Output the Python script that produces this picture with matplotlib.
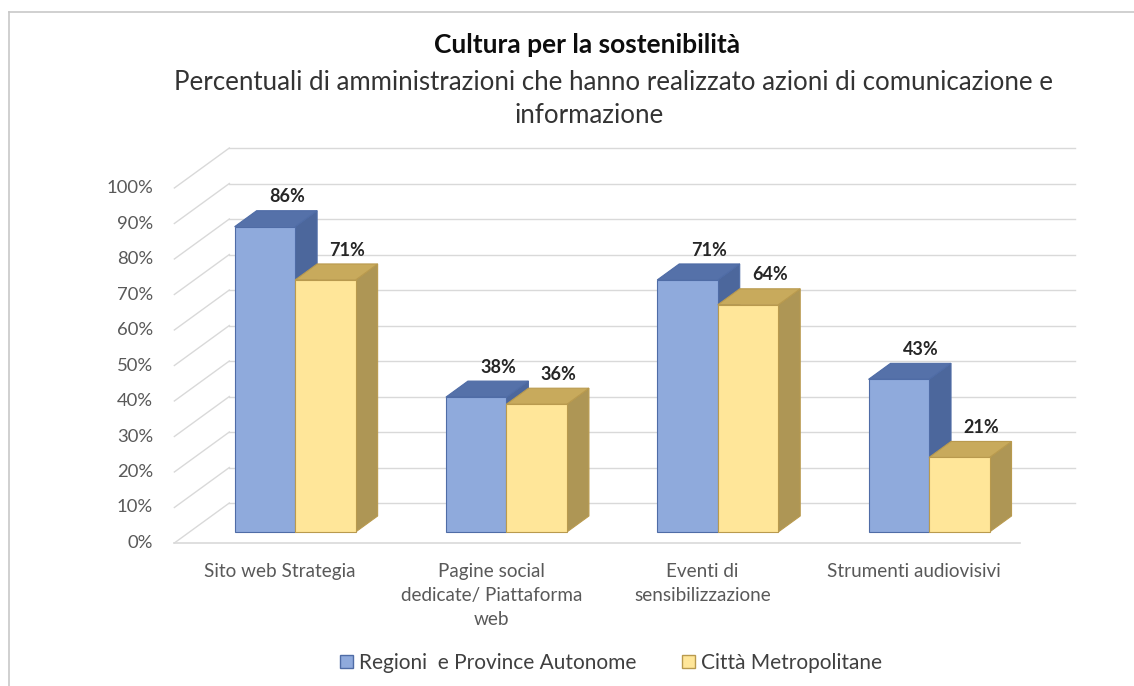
import matplotlib.pyplot as plt
from matplotlib.patches import Polygon, Patch
from matplotlib.lines import Line2D

plt.rcParams['font.family'] = ['Lato', 'DejaVu Sans']

# dati
categorie = ["Sito web Strategia",
             "Pagine social\ndedicate/ Piattaforma\nweb",
             "Eventi di\nsensibilizzazione",
             "Strumenti audiovisivi"]
regioni = [86, 38, 71, 43]
citta = [71, 36, 64, 21]
serie = ["Regioni  e Province Autonome", "Città Metropolitane"]
tick_vals = [0, 10, 20, 30, 40, 50, 60, 70, 80, 90, 100]
tick_labels = [f"{v}%" for v in tick_vals]

titolo = "Cultura per la sostenibilità"
sottotitolo_1 = "Percentuali di amministrazioni che hanno realizzato azioni di comunicazione e"
sottotitolo_2 = "informazione"

# layout (pixel della figura)
W, H = 1134, 686
X0_PX, PITCH_PX = 280, 211.3      # centro prima categoria sul piano frontale
Y0_PX, PX_PCT = 543, 3.55         # linea dello 0% sul piano frontale
DX = 55 / PITCH_PX                # profondita' in unita' di categoria
DY = 40 / PX_PCT                  # profondita' in punti percentuali
BAR_W = 60.5 / PITCH_PX
D_FRONT, D_BACK = 0.275, 0.675    # profondita' delle barre

colori = {
    "blu": ("#8FAADC", "#5571A9", "#4C679C", "#4F6CA6"),
    "giallo": ("#FFE699", "#C8AA5C", "#AE9655", "#B99A4E"),
}

fig = plt.figure(figsize=(W / 100, H / 100), dpi=100)
ax = fig.add_axes([0, 0, 1, 1])
ax.set_xlim(-X0_PX / PITCH_PX, (W - X0_PX) / PITCH_PX)
ax.set_ylim((Y0_PX - H) / PX_PCT, Y0_PX / PX_PCT)
ax.axis('off')


def proj(x, y, d):
    return (x + d * DX, y + d * DY)


grid_c = "#D9D9D9"
x_left, x_right = -0.5, len(categorie) - 0.5

# parete di fondo e parete laterale
for v, lab in zip(tick_vals, tick_labels):
    xa, ya = proj(x_left, v, 1)
    xb, yb = proj(x_right, v, 1)
    ax.plot([xa, xb], [ya, yb], color=grid_c, lw=1, zorder=1)
    xc, yc = proj(x_left, v, 0)
    ax.plot([xc, xa], [yc, ya], color=grid_c, lw=1, zorder=1)
    ax.text(xc - 0.1, yc, lab, ha='right', va='center',
            fontsize=13.3, color="#595959")

# bordo frontale del pavimento
ax.plot([x_left, x_right], [0, 0], color=grid_c, lw=1.2, zorder=1)


def barra(x0, x1, h, cols, z):
    front, top, side, edge = cols
    faces = [
        ([(x1, 0, D_FRONT), (x1, 0, D_BACK), (x1, h, D_BACK), (x1, h, D_FRONT)], side),
        ([(x0, h, D_FRONT), (x1, h, D_FRONT), (x1, h, D_BACK), (x0, h, D_BACK)], top),
        ([(x0, 0, D_FRONT), (x1, 0, D_FRONT), (x1, h, D_FRONT), (x0, h, D_FRONT)], front),
    ]
    for pts, c in faces:
        ax.add_patch(Polygon([proj(*p) for p in pts], closed=True, facecolor=c,
                             edgecolor=edge, lw=0.8, zorder=z))
    # etichetta del valore sopra la barra
    xl, yl = proj((x0 + x1) / 2, h, D_BACK)
    ax.annotate(f"{h}%", (xl, yl), xytext=(0, 10), textcoords='offset points',
                ha='center', va='center', fontsize=13, fontweight='bold',
                color="#262626", zorder=z + 1)


for i in range(len(categorie)):
    barra(i - BAR_W, i, regioni[i], colori["blu"], 3 + 2 * i)
    barra(i, i + BAR_W, citta[i], colori["giallo"], 4 + 2 * i)
    ax.text(i, (Y0_PX - 563) / PX_PCT, categorie[i], ha='center', va='top',
            fontsize=13.6, color="#595959", linespacing=1.5)

# titoli
fig.text(587 / W, 1 - 53 / H, titolo, ha='center', va='baseline',
         fontsize=19, fontweight='bold', color="#0D0D0D")
fig.text(613 / W, 1 - 90 / H, sottotitolo_1, ha='center', va='baseline',
         fontsize=18.6, color="#333333")
fig.text(589 / W, 1 - 123 / H, sottotitolo_2, ha='center', va='baseline',
         fontsize=18.6, color="#333333")

# legenda
handles = [Patch(facecolor=colori["blu"][0], edgecolor=colori["blu"][3]),
           Patch(facecolor=colori["giallo"][0], edgecolor=colori["giallo"][3])]
fig.legend(handles, serie, loc='center', bbox_to_anchor=(611 / W, 1 - 663 / H),
           ncol=2, frameon=False, fontsize=15, handlelength=0.6, handleheight=0.6,
           handletextpad=0.3, columnspacing=2.2, labelcolor="#404040")

# cornice del grafico
fig.add_artist(Line2D([9 / W, 1], [1 - 12 / H, 1 - 12 / H], transform=fig.transFigure,
                      color="#C8C8C8", lw=1.2))
fig.add_artist(Line2D([9 / W, 9 / W], [0, 1 - 12 / H], transform=fig.transFigure,
                      color="#C8C8C8", lw=1.2))

plt.savefig("out.png", dpi=100)
